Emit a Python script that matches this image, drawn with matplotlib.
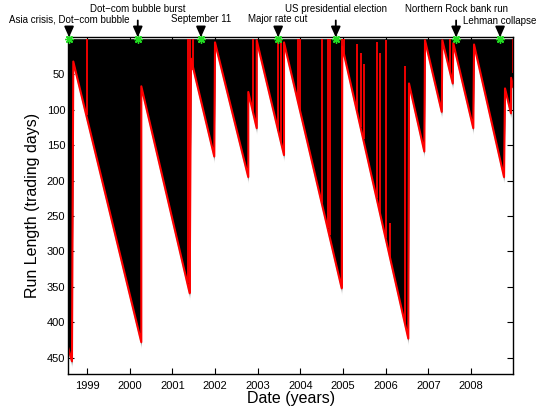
import numpy as np
import matplotlib
matplotlib.use('Agg')
import matplotlib.pyplot as plt

plt.rcParams['font.family'] = ['Liberation Sans', 'DejaVu Sans']

# ---- data ----
# run-length segments of the posterior (start/end date in years, run length in trading days)
seg_start_year = [1998.555, 1998.679, 2000.273, 2001.437, 2002.000, 2002.780, 2002.977,
                  2003.617, 2004.983, 2006.546, 2006.921, 2007.327, 2007.584, 2008.070,
                  2008.796, 2008.940]
seg_start_rl = [435, 32, 67, 28, 5, 75, 2, 5, 11, 63, 2, 2, 6, 8, 70, 55]
seg_end_year = [1998.648, 2000.273, 2001.407, 2001.983, 2002.780, 2002.977, 2003.617,
                2004.969, 2006.530, 2006.905, 2007.313, 2007.571, 2008.053, 2008.773,
                2008.935, 2008.990]
seg_end_rl = [455, 428, 359, 166, 195, 126, 164, 352, 423, 159, 103, 63, 126, 195, 105, 68]

# short-lived jumps of the most probable run length
spike_year = [1998.993, 2001.360, 2001.420, 2001.490, 2002.897, 2003.483, 2003.546,
              2003.945, 2003.992, 2004.500, 2004.655, 2004.695, 2004.975, 2005.030,
              2005.321, 2005.410, 2005.480, 2005.789, 2005.867, 2006.000, 2006.101,
              2006.453, 2007.507, 2008.975]
spike_top_rl = [0, 0, 0, 0, 0, 0, 0, 0, 0, 0, 0, 0, 0, 0,
                8, 20, 35, 5, 20, 2, 260, 39, 0, 0]
spike_bottom_rl = [108, 345, 359, 44, 105, 130, 146, 89, 100, 232, 267, 277, 352, 24,
                   101, 124, 142, 225, 246, 281, 308, 402, 47, 48]

# events
event_year = [1998.58, 2000.19, 2001.67, 2003.48, 2004.83, 2007.65, 2008.68]
event_label = ['Asia crisis, Dot\u2212com bubble', 'Dot\u2212com bubble burst', 'September 11',
               'Major rate cut', 'US presidential election', 'Northern Rock bank run',
               'Lehman collapse']

year_ticks = [1999, 2000, 2001, 2002, 2003, 2004, 2005, 2006, 2007, 2008]
rl_ticks = [50, 100, 150, 200, 250, 300, 350, 400, 450]

# ---- figure ----
W, H = 540, 408
fig = plt.figure(figsize=(W / 100, H / 100), dpi=100)
ax = fig.add_axes([68 / W, 1 - 374 / H, (513.3 - 68) / W, (374 - 36.7) / H])

t_all = []
r_all = []
for a, b, c, d in zip(seg_start_year, seg_start_rl, seg_end_year, seg_end_rl):
    t_all += [a, c]
    r_all += [b, d]
t_all = np.array(t_all)
r_all = np.array(r_all, dtype=float)

# soft edge of the posterior mass
for off, col in [(9, '#e6e6e6'), (6, '#b0b0b0'), (3, '#606060')]:
    ax.fill_between(t_all, 0, r_all + off, color=col, lw=0, zorder=1)
ax.fill_between(t_all, 0, r_all, color='black', lw=0, zorder=2)

ax.plot(t_all, r_all, color='red', lw=1.5, zorder=3)
ax.vlines(spike_year, spike_top_rl, spike_bottom_rl, color='red', lw=1.3, zorder=3)

ax.plot(event_year, [0] * len(event_year), ls='none', marker=(8, 2, 0), ms=6,
        mew=1.0, color='#22dd22', clip_on=False, zorder=5)

levels = [19.5, 8.5, 19.5, 19.5, 8.5, 8.5, 20.5]
for yr, lab, lv in zip(event_year, event_label, levels):
    ax.annotate(lab, xy=(yr, -2), xycoords='data',
                xytext=(yr, H - lv), textcoords=('data', 'figure pixels'),
                ha='center', va='center', fontsize=7,
                arrowprops=dict(arrowstyle='-|>,head_length=0.9,head_width=0.4',
                                color='black', lw=1.3, shrinkA=3, shrinkB=0),
                annotation_clip=False, zorder=6)

ax.set_xlim(1998.555, 2008.99)
ax.set_ylim(473, -3)
ax.set_xticks(year_ticks)
ax.set_xticklabels([str(y) for y in year_ticks])
ax.set_yticks(rl_ticks)
ax.tick_params(direction='in', length=4, labelsize=8, top=True, right=True)
ax.tick_params(axis='x', pad=5)
ax.tick_params(axis='y', pad=2)
for sp in ax.spines.values():
    sp.set_linewidth(1.0)
    sp.set_zorder(4)
ax.set_xlabel('Date (years)', fontsize=11.5, labelpad=0)
ax.set_ylabel('Run Length (trading days)', fontsize=11.5, labelpad=5)

fig.savefig('out.png', dpi=100)
